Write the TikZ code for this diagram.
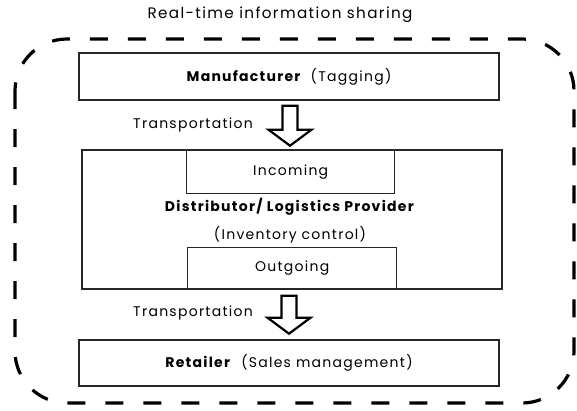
\documentclass[tikz,border=0pt]{standalone}
\usepackage{fontspec}
\setmainfont{Poppins}[LetterSpace=9]
\usetikzlibrary{calc}
\begin{document}
\begin{tikzpicture}[x=1pt,y=-1pt,
  box/.style={draw=black!85, line width=1.4pt, inner sep=0pt},
  lbl/.style={font=\fontsize{14}{16}\selectfont, inner sep=0pt},
  blockarrow/.style={draw=black, line width=2.2pt, fill=white, line join=miter},
  frame/.style={draw=black, line width=3.2pt, dash pattern=on 18pt off 20pt, rounded corners=52pt}]
\useasboundingbox (0,0) rectangle (577,410);
\node[lbl, font=\fontsize{15.2}{17}\selectfont] (title) at (280,15) {Real-time information sharing};
\draw[frame] (15,39) rectangle (574,403);
% Manufacturer
\node[box, minimum width=420pt, minimum height=47pt] (man) at (289,76.5) {};
\node[lbl] (mant) at (man.center) {\textbf{Manufacturer}\hspace{9pt}(Tagging)};
% Distributor
\node[box, minimum width=420pt, minimum height=139pt] (dist) at (292,219.5) {};
\node[box, minimum width=208pt, minimum height=43pt, anchor=north west] (inc) at (186,150) {};
\node[lbl] (inct) at (inc.center) {Incoming};
\node[box, minimum width=209pt, minimum height=41pt, anchor=south west] (out) at (187,289) {};
\node[lbl] (outt) at (out.center) {Outgoing};
\node[lbl] (distt) at (290,207) {\textbf{Distributor/ Logistics Provider}};
\node[lbl] (invt) at (290,235) {(Inventory control)};
% Retailer
\node[box, minimum width=420pt, minimum height=46pt] (ret) at (289,363) {};
\node[lbl] (rett) at (ret.center) {\textbf{Retailer}\hspace{10pt}(Sales management)};
% Transportation labels
\node[lbl, anchor=east] (tr1) at (253,125) {Transportation};
\node[lbl, anchor=east] (tr2) at (253,313) {Transportation};
% block arrows
\coordinate (a1) at ($(man.south)+(1,0)$);
\draw[blockarrow] ($(a1)+(-7.5,5)$) -- ($(a1)+(7.5,5)$) -- ($(a1)+(7.5,29)$) -- ($(a1)+(21.5,29)$)
  -- ($(a1)+(0,45)$) -- ($(a1)+(-21.5,29)$) -- ($(a1)+(-7.5,29)$) -- cycle;
\coordinate (a2) at ($(dist.south)+(-3,0)$);
\draw[blockarrow] ($(a2)+(-7.5,6)$) -- ($(a2)+(7.5,6)$) -- ($(a2)+(7.5,28)$) -- ($(a2)+(21.5,28)$)
  -- ($(a2)+(0,44)$) -- ($(a2)+(-21.5,28)$) -- ($(a2)+(-7.5,28)$) -- cycle;
\end{tikzpicture}
\end{document}
